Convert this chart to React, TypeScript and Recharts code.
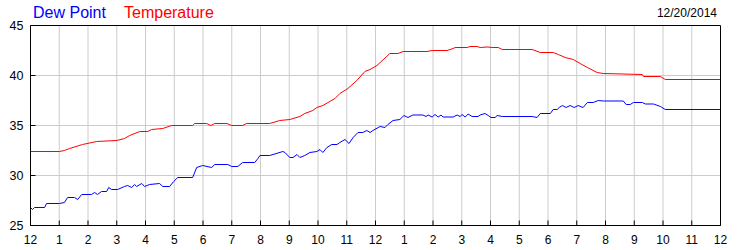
import { LineChart, Line, XAxis, YAxis, CartesianGrid } from 'recharts';

// hour of day (0 = midnight) and reading
const tempHours = [
  0, 1.01, 1.18, 1.36, 1.81, 2.3, 3.0, 3.27, 3.45, 3.8, 4.08, 4.21, 4.6, 4.91, 5.64, 5.71,
  6.13, 6.27, 6.41, 6.83, 7.0, 7.38, 7.52, 8.32, 8.67, 9.02, 9.37, 9.54, 9.82, 9.96, 10.17,
  10.59, 10.76, 11.04, 11.35, 11.63, 11.81, 12.05, 12.5, 12.78, 12.96, 13.79, 13.97, 14.49,
  14.7, 14.77, 15.19, 15.29, 15.53, 15.64, 15.88, 16.09, 16.27, 16.41, 17.45, 17.73, 18.18,
  18.36, 18.6, 18.88, 19.12, 19.37, 19.71, 19.92, 21.28, 21.32, 21.91, 22.08, 24,
];
const tempValues = [
  32.4, 32.4, 32.5, 32.7, 33.1, 33.4, 33.5, 33.7, 34.0, 34.4, 34.4, 34.6, 34.7, 35.0, 35.0, 35.2,
  35.2, 35.0, 35.2, 35.2, 35.0, 35.0, 35.2, 35.2, 35.5, 35.6, 35.9, 36.2, 36.5, 36.8, 37.0,
  37.7, 38.2, 38.7, 39.5, 40.4, 40.6, 41.0, 42.2, 42.2, 42.4, 42.4, 42.5, 42.5,
  42.7, 42.8, 42.8, 42.9, 42.9, 42.8, 42.85, 42.8, 42.8, 42.6, 42.6, 42.3, 42.3,
  42.1, 41.8, 41.6, 41.2, 40.8, 40.3, 40.2, 40.1, 39.9, 39.9, 39.6, 39.6,
];

const dewHours = [
  0, 0.07, 0.14, 0.49, 0.56, 1.01, 1.18, 1.29, 1.53, 1.64, 1.78, 2.12, 2.23, 2.33, 2.47, 2.65,
  2.72, 2.82, 3.03, 3.27, 3.38, 3.52, 3.62, 3.69, 3.87, 3.97, 4.14, 4.49, 4.6, 4.84, 4.98,
  5.12, 5.64, 5.78, 5.99, 6.3, 6.41, 6.86, 7.0, 7.21, 7.38, 7.8, 7.91, 7.98, 8.32, 8.78,
  8.85, 9.02, 9.13, 9.27, 9.37, 9.54, 9.72, 9.96, 10.07, 10.17, 10.31, 10.48, 10.66, 10.76,
  10.94, 11.08, 11.22, 11.39, 11.56, 11.7, 11.81, 11.91, 12.16, 12.33, 12.43, 12.61, 12.85,
  12.99, 13.13, 13.3, 13.65, 13.76, 13.83, 13.97, 14.07, 14.18, 14.28, 14.35, 14.7, 14.84,
  14.94, 15.01, 15.12, 15.22, 15.36, 15.57, 15.64, 15.81, 15.92, 16.02, 16.16, 16.23, 16.41,
  17.45, 17.62, 17.73, 18.08, 18.18, 18.32, 18.39, 18.5, 18.63, 18.77, 18.91, 19.05, 19.22,
  19.37, 19.57, 19.75, 19.92, 20.62, 20.72, 20.86, 20.97, 21.28, 21.39, 21.67, 21.91, 22.08, 24,
];
const dewValues = [
  26.8, 26.6, 26.8, 26.8, 27.2, 27.2, 27.3, 27.8, 27.8, 27.6, 28.1, 28.1, 28.3, 28.1, 28.4, 28.4,
  28.8, 28.6, 28.6, 28.9, 29.0, 28.8, 29.1, 28.9, 29.2, 28.9, 29.1, 29.2, 28.9, 28.9, 29.4,
  29.8, 29.8, 30.8, 31.0, 30.8, 31.1, 31.1, 30.9, 30.9, 31.3, 31.3, 31.7, 32.0, 32.0, 32.4,
  32.3, 31.8, 31.8, 32.1, 31.8, 32.0, 32.3, 32.4, 32.6, 32.3, 32.8, 33.1, 33.1, 33.3,
  33.6, 33.2, 33.8, 34.3, 34.3, 34.5, 34.3, 34.5, 34.9, 34.8, 35.1, 35.5, 35.6,
  36.0, 35.8, 36.05, 36.05, 35.9, 36.05, 35.85, 36.1, 35.85, 36.05, 35.85, 35.85, 36.05,
  35.9, 36.1, 35.85, 36.15, 35.9, 35.9, 36.05, 36.2, 36.0, 35.8, 35.8, 36.0, 35.9,
  35.9, 35.8, 36.2, 36.2, 36.6, 36.6, 36.8, 37.0, 36.8, 37.0, 36.8, 37.0, 36.8,
  37.3, 37.3, 37.5, 37.45, 37.45, 37.1, 37.1, 37.3, 37.3, 37.15, 37.15, 36.9, 36.6, 36.6,
];

const hourTicks = [0, 1, 2, 3, 4, 5, 6, 7, 8, 9, 10, 11, 12, 13, 14, 15, 16, 17, 18, 19, 20, 21, 22, 23, 24];
const hourLabels = ['12', '1', '2', '3', '4', '5', '6', '7', '8', '9', '10', '11',
  '12', '1', '2', '3', '4', '5', '6', '7', '8', '9', '10', '11', '12'];
const degTicks = [25, 30, 35, 40, 45];

const tempData = tempHours.map((t, i) => ({ t, v: tempValues[i] }));
const dewData = dewHours.map((t, i) => ({ t, v: dewValues[i] }));

const FONT = '"Liberation Sans", Arial, sans-serif';

// tick marks sit inside the frame, labels outside
const BottomTick = ({ x, y, payload }: any) => (
  <g>
    <line x1={x} y1={y} x2={x} y2={y - 5} stroke="#000" />
    <text x={x} y={y + 18} textAnchor="middle" fontSize={12} fontFamily={FONT} fill="#000">
      {hourLabels[payload.value]}
    </text>
  </g>
);

const TopTick = ({ x, y }: any) => <line x1={x} y1={y} x2={x} y2={y + 5} stroke="#000" />;

const LeftTick = ({ x, y, payload }: any) => (
  <g>
    <line x1={x} y1={y} x2={x + 5} y2={y} stroke="#000" />
    <text x={x - 7} y={y + 4.5} textAnchor="end" fontSize={12.5} fontFamily={FONT} fill="#000">
      {payload.value}
    </text>
  </g>
);

const RightTick = ({ x, y, payload }: any) => (
  <g>
    <line x1={x} y1={y} x2={x - 5} y2={y} stroke="#000" />
    <text x={x + 6} y={y + 4.5} textAnchor="start" fontSize={12.5} fontFamily={FONT} fill="#000">
      {payload.value}
    </text>
  </g>
);

export default function App() {
  return (
    <div style={{ position: 'absolute', left: 0, top: 0, width: 750, height: 250, background: '#fff' }}>
      <LineChart width={750} height={250} margin={{ top: 5.5, right: 4.5, bottom: 4.5, left: 5.5 }}>
        <CartesianGrid stroke="#cccccc" strokeWidth={1} />
        <XAxis
          type="number"
          dataKey="t"
          domain={[0, 24]}
          ticks={hourTicks}
          height={20}
          tickSize={0}
          tickMargin={0}
          tickLine={false}
          axisLine={{ stroke: '#000' }}
          tick={<BottomTick />}
          interval={0}
        />
        <XAxis
          xAxisId="top"
          orientation="top"
          type="number"
          dataKey="t"
          domain={[0, 24]}
          ticks={hourTicks}
          height={20}
          tickSize={0}
          tickMargin={0}
          tickLine={false}
          axisLine={{ stroke: '#000' }}
          tick={<TopTick />}
          interval={0}
        />
        <YAxis
          type="number"
          domain={[25, 45]}
          ticks={degTicks}
          width={25}
          tickSize={0}
          tickMargin={0}
          tickLine={false}
          axisLine={{ stroke: '#000' }}
          tick={<LeftTick />}
          interval={0}
        />
        <YAxis
          yAxisId="right"
          orientation="right"
          type="number"
          domain={[25, 45]}
          ticks={degTicks}
          width={25}
          tickSize={0}
          tickMargin={0}
          tickLine={false}
          axisLine={{ stroke: '#000' }}
          tick={<RightTick />}
          interval={0}
        />
        <Line data={tempData} dataKey="v" type="linear" stroke="#ff0000" strokeWidth={1} dot={false} isAnimationActive={false} />
        <Line data={dewData} dataKey="v" type="linear" stroke="#0000ff" strokeWidth={1} dot={false} isAnimationActive={false} />
      </LineChart>
      <svg width={750} height={25} style={{ position: 'absolute', left: 0, top: 0 }}>
        <text x={33} y={18} fontSize={16} fontFamily={FONT} fill="#0000ff">Dew Point</text>
        <text x={124} y={18} fontSize={16} fontFamily={FONT} fill="#ff0000">Temperature</text>
        <text x={717} y={17} textAnchor="end" fontSize={12} fontFamily={FONT} fill="#000">12/20/2014</text>
      </svg>
    </div>
  );
}
